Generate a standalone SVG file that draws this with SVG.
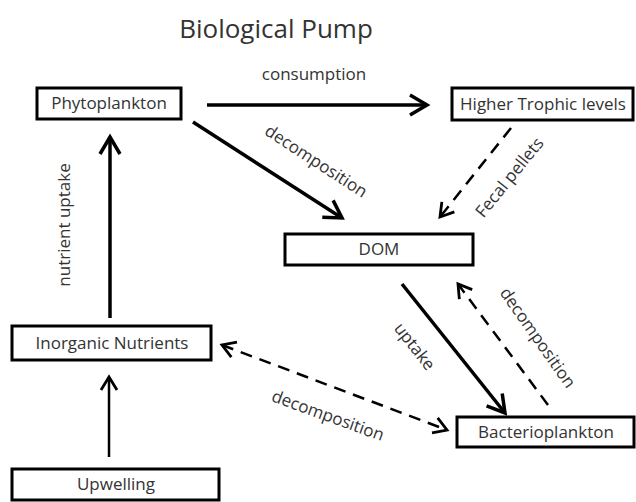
<svg xmlns="http://www.w3.org/2000/svg" width="636" height="502" viewBox="0 0 636 502">
<defs>
<style>
.box{fill:#fff;stroke:#000;stroke-width:3}
.lbl{font-family:"Open Sans","Liberation Sans",sans-serif;font-size:17px;fill:#333;text-anchor:middle}
.title{font-family:"Open Sans","Liberation Sans",sans-serif;font-size:26px;fill:#333;text-anchor:middle}
.solid{fill:none;stroke:#000;stroke-width:3.5}
.thin{fill:none;stroke:#000;stroke-width:2.5}
.dash{fill:none;stroke:#000;stroke-width:2.5;stroke-dasharray:12 8}
</style>
<marker id="ah" markerUnits="userSpaceOnUse" viewBox="-24 -14 28 28" markerWidth="28" markerHeight="28" refX="0" refY="0" orient="auto-start-reverse">
<path d="M-17,-10 L0,0 L-17,10" fill="none" stroke="#000" stroke-width="3.5"/>
</marker>
<marker id="ahd" markerUnits="userSpaceOnUse" viewBox="-24 -14 28 28" markerWidth="28" markerHeight="28" refX="0" refY="0" orient="auto-start-reverse">
<path d="M-13,-8 L0,0 L-13,8" fill="none" stroke="#000" stroke-width="2.8"/>
</marker>
</defs>
<rect width="636" height="502" fill="#fff"/>
<text class="title" x="276" y="38">Biological Pump</text>
<g id="connectors">
<path class="solid" d="M207,105 L427,105" marker-end="url(#ah)"/>
<path class="solid" d="M193,122 L342,218" marker-end="url(#ah)"/>
<path class="dash" d="M511,128 L440,217" marker-end="url(#ahd)"/>
<path class="solid" d="M402,284 L505,413" marker-end="url(#ah)"/>
<path class="dash" d="M548,405 L458,284" marker-end="url(#ahd)"/>
<path class="dash" d="M222,345 L447,430" marker-start="url(#ahd)" marker-end="url(#ahd)"/>
<path class="solid" d="M110,318 L110,137" marker-end="url(#ah)"/>
<path class="thin" d="M109,457 L109,377" marker-end="url(#ahd)"/>
<text class="lbl" x="314" y="80">consumption</text>
<text class="lbl" transform="translate(70,225) rotate(-90)">nutrient uptake</text>
<text class="lbl" transform="translate(313,166) rotate(33)">decomposition</text>
<text class="lbl" transform="translate(514,181) rotate(-51)">Fecal pellets</text>
<text class="lbl" transform="translate(410,350) rotate(52)">uptake</text>
<text class="lbl" transform="translate(533,341) rotate(55)">decomposition</text>
<text class="lbl" transform="translate(326,421) rotate(20)">decomposition</text>
</g>
<g id="phytoplankton"><rect class="box" x="37" y="88" width="144" height="31"/><text class="lbl" x="109" y="109">Phytoplankton</text></g>
<g id="higher-trophic"><rect class="box" x="452" y="88" width="181" height="32"/><text class="lbl" x="543" y="110">Higher Trophic levels</text></g>
<g id="dom"><rect class="box" x="285" y="234" width="188" height="31"/><text class="lbl" x="379" y="255">DOM</text></g>
<g id="inorganic-nutrients"><rect class="box" x="12" y="326" width="199" height="34"/><text class="lbl" x="112" y="349">Inorganic Nutrients</text></g>
<g id="upwelling"><rect class="box" x="12" y="469" width="207" height="31"/><text class="lbl" x="116" y="490">Upwelling</text></g>
<g id="bacterioplankton"><rect class="box" x="457" y="417" width="177" height="30"/><text class="lbl" x="546" y="438">Bacterioplankton</text></g>
</svg>
